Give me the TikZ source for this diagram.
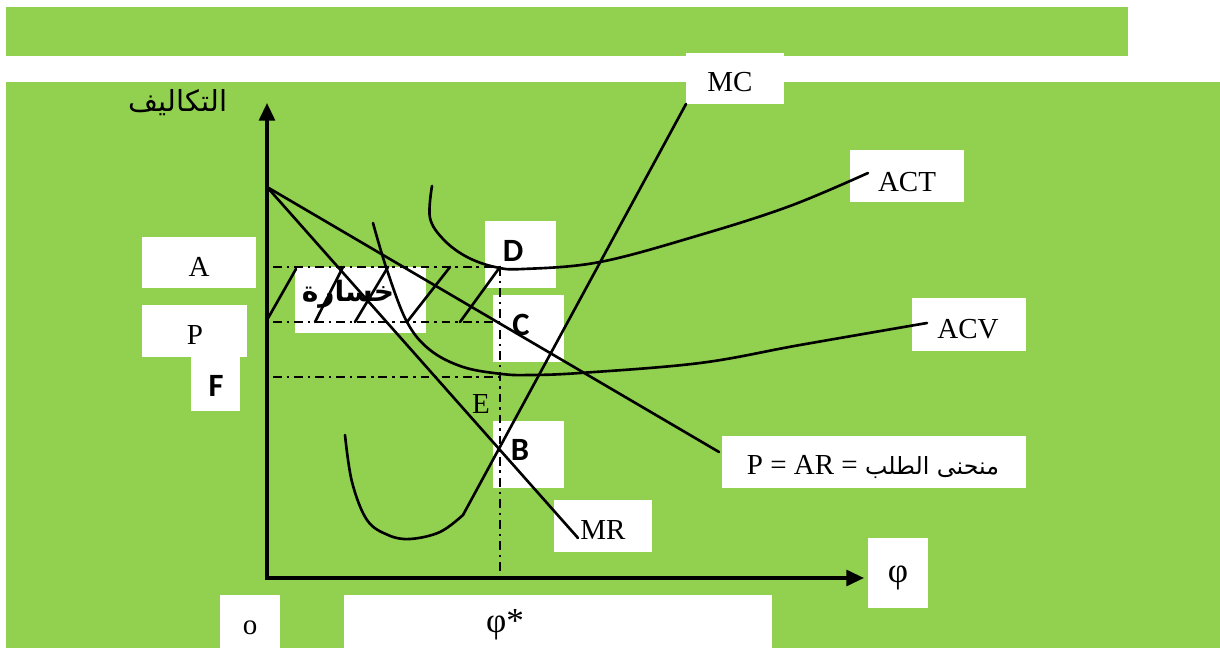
\documentclass[tikz,border=0pt]{standalone}
\usepackage{fontspec}
\setmainfont{Liberation Serif}
\newfontfamily\arabicfont[Script=Arabic]{DejaVu Sans}
\newfontfamily\calfont{Carlito}
\TeXXeTstate=1
\usetikzlibrary{arrows.meta}
\definecolor{bggreen}{HTML}{92D050}
\begin{document}
\begin{tikzpicture}[x=0.02cm,y=-0.02cm,
  curve/.style={line width=1.5pt, line join=round, line cap=round},
  ddash/.style={line width=1.2pt, dash pattern=on 5pt off 2.8pt on 1.4pt off 2.8pt},
  lbl/.style={font=\fontsize{16.5}{18}\selectfont, inner sep=0pt},
  blbl/.style={font=\calfont\bfseries\fontsize{18.5}{20}\selectfont, inner sep=0pt},
  wbox/.style={fill=white},
  axis/.style={line width=1.8pt, {Triangle[length=10pt,width=9pt]}-{Triangle[length=10pt,width=9pt]}}]
\useasboundingbox (0,0) rectangle (1220,648);
% background bands
\fill[bggreen] (6,7) rectangle (1128,56);
\fill[bggreen] (6,82) rectangle (1220,648);
% white label boxes
\fill[wbox] (686,53) rectangle (784,104);
\fill[wbox] (142,237) rectangle (256,288);
\fill[wbox] (142,305) rectangle (247,357);
\fill[wbox] (191,357) rectangle (240,411);
\fill[wbox] (295,267) rectangle (426,333);
\fill[wbox] (485,221) rectangle (556,288);
\fill[wbox] (493,295) rectangle (564,362);
\fill[wbox] (493,421) rectangle (564,488);
\fill[wbox] (554,500) rectangle (652,552);
\fill[wbox] (722,436) rectangle (1026,488);
\fill[wbox] (850,150) rectangle (964,202);
\fill[wbox] (912,298) rectangle (1026,351);
\fill[wbox] (868,538) rectangle (928,608);
\fill[wbox] (220,595) rectangle (280,648);
\fill[wbox] (344,595) rectangle (772,648);
% key coordinates
\coordinate (O) at (267,578);
\coordinate (Ytop) at (267,103);
\coordinate (Xend) at (864,578);
\coordinate (K) at (267,187);
\coordinate (Dpt) at (500,267);
\coordinate (Cpt) at (500,322);
\coordinate (Fpt) at (500,377);
\coordinate (Qpt) at (500,578);
\coordinate (Aaxis) at (273,267);
\coordinate (Paxis) at (273,322);
\coordinate (Faxis) at (273,377);
\coordinate (MCend) at (686,104);
\coordinate (ARend) at (719,452);
\coordinate (MRend) at (578,538);
% dash-dot guide lines
\draw[ddash] (Aaxis) -- (Dpt);
\draw[ddash] (Paxis) -- (Cpt);
\draw[ddash] (Faxis) -- (Fpt);
\draw[ddash] (Dpt) -- (Qpt);
% hatching of the loss area
\draw[curve] (267,320) -- (296,269);
\draw[curve] (315,322) -- (343,267);
\draw[curve] (355,322) -- (388,267);
\draw[curve] (407,322) -- (450,267);
\draw[curve] (460,322) -- (500,267);
% demand and MR
\draw[curve] (K) -- (ARend);
\draw[curve] (K) -- (MRend);
% ACT
\draw[curve] plot[smooth, tension=0.6] coordinates {(432,186) (430,218) (444,240) (467,257) (495,267) (523,269) (600,262) (700,235) (790,206) (868,173)};
% ACV
\draw[curve] plot[smooth, tension=0.6] coordinates {(373,223) (387,270) (407,322) (430,350) (463,367) (502,374) (530,375) (580,373) (700,363) (800,345) (927,323)};
% MC
\draw[curve] plot[smooth, tension=0.6] coordinates {(345,435) (352,482) (367,520) (388,535) (410,539) (440,532) (463,515)} -- (MCend);
% axes
\draw[axis] (Ytop) -- (O) -- (Xend);
% texts
\node[font=\arabicfont\fontsize{16.5}{19}\selectfont, inner sep=0pt] (cost) at (178,103) {\beginR التكاليف\endR};
\node[lbl] (MClbl) at (730,82) {MC};
\node[lbl] (ACTlbl) at (907,182) {ACT};
\node[lbl] (ACVlbl) at (968,329) {ACV};
\node[lbl] (Albl) at (199,267) {A};
\node[lbl] (Plbl) at (195,335) {P};
\node[blbl] (Flbl) at (216,386) {F};
\node[font=\arabicfont\bfseries\fontsize{16}{18}\selectfont, inner sep=0pt] (loss) at (348,294) {\beginR خسارة\endR};
\node[blbl] (Dlbl) at (513,251) {D};
\node[blbl] (Clbl) at (521,325) {C};
\node[blbl] (Blbl) at (520,450) {B};
\node[lbl] (Elbl) at (481,404) {E};
\node[lbl] (MRlbl) at (603,530) {MR};
\node[lbl] (ARlbl) at (873,467) {P = AR = {\arabicfont\fontsize{13.5}{16}\selectfont\beginR منحنى الطلب\endR}};
\node[font=\fontsize{20}{22}\selectfont, inner sep=0pt] (phil) at (898,578) {φ};
\node[lbl] (olbl) at (250,628) {o};
\node[font=\fontsize{20}{22}\selectfont, inner sep=0pt] (phistar) at (505,625) {φ*};
\end{tikzpicture}
\end{document}
